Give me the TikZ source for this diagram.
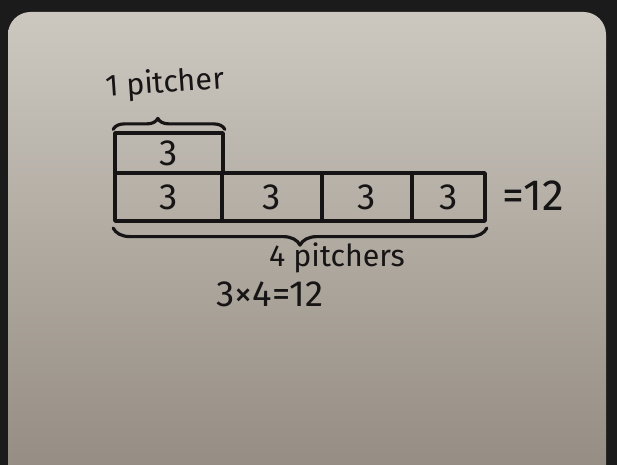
\documentclass[tikz,border=0pt]{standalone}
\usepackage{fontspec}
\setmainfont{Fira Sans}
\usetikzlibrary{decorations.pathreplacing}
\definecolor{ink}{RGB}{22,20,20}
\definecolor{frame}{RGB}{28,27,27}
\definecolor{boardtop}{RGB}{204,200,192}
\definecolor{boardbot}{RGB}{146,137,127}
\tikzset{
  every node/.style={font=\huge, text=ink},
  cell/.style    = {rectangle, draw=ink, line width=2.1pt, inner sep=0pt,
                    minimum height=0.96cm},
  topcell/.style = {cell, minimum height=0.8cm},
  brace/.style   = {decorate, decoration={brace, amplitude=#1, aspect=0.45},
                    draw=ink, line width=1.8pt},
  brace/.default = 0.25cm,
  note/.style    = {font=\LARGE, inner sep=1pt},
}
\begin{document}
\begin{tikzpicture}[x=0.02cm, y=-0.02cm, line join=round, line cap=round]
  \useasboundingbox (0,0) rectangle (617,465);
  \clip (0,0) rectangle (617,465);

  % ---- board ----
  \fill[frame] (0,0) rectangle (617,465);
  \shade[top color=boardtop, bottom color=boardbot, rounded corners=0.45cm]
    (8,12) rectangle (606,500);

  % ---- tape: top piece ----
  \node[topcell, minimum width=2.16cm] (top) at (169,153) {3};

  % ---- tape: bottom row ----
  \node[cell, minimum width=2.14cm] (c1) at (168.5,197) {3};
  \node[cell, minimum width=2.00cm] (c2) at (272,197)   {3};
  \node[cell, minimum width=1.80cm] (c3) at (367,197)   {3};
  \node[cell, minimum width=1.46cm] (c4) at (448.5,197) {3};

  % ---- braces ----
  \draw[brace=0.22cm, decoration={aspect=0.4, raise=1pt}]
    (top.north west) -- (top.north east);
  \draw[brace=0.34cm, decoration={aspect=0.5, raise=3pt}]
    (c4.south east) -- (c1.south west);

  % ---- labels ----
  \node[note, rotate=4] (one)  at (165,84)  {1 pitcher};
  \node[note]           (four) at (337,258) {4 pitchers};
  \node                 (prod) at (270,294) {3×4=12};
  \node[font=\Huge]     (sum)  at (533,196) {=12};
\end{tikzpicture}
\end{document}
